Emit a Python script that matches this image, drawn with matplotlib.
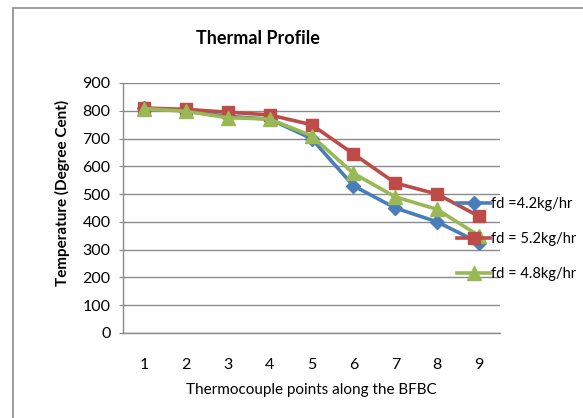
import matplotlib
matplotlib.use("Agg")
import matplotlib.pyplot as plt
from matplotlib.patches import Rectangle

points = [1, 2, 3, 4, 5, 6, 7, 8, 9]
fd_42 = [810, 800, 780, 770, 700, 530, 450, 400, 325]
fd_52 = [810, 805, 795, 785, 750, 645, 540, 500, 420]
fd_48 = [808, 798, 775, 770, 710, 575, 490, 445, 350]
labels = ["fd =4.2kg/hr", "fd = 5.2kg/hr", "fd = 4.8kg/hr"]
yticks = [0, 100, 200, 300, 400, 500, 600, 700, 800, 900]

plt.rcParams['font.family'] = ['Lato', 'DejaVu Sans']

W, H = 583, 418
fig = plt.figure(figsize=(W / 100, H / 100), dpi=100)
fig.patch.set_facecolor('white')

# outer chart frame
fig.add_artist(Rectangle((13 / W, -0.1), 1.2, 1.1 - 8 / H, transform=fig.transFigure,
                         fill=False, edgecolor='#8c8c8c', linewidth=1.2))

ax = fig.add_axes([123 / W, 1 - 333 / H, (500 - 123) / W, (333 - 83) / H])
ax.set_xlim(0.5, 9.5)
ax.set_ylim(0, 900)
ax.set_yticks(yticks)
ax.set_xticks(points)
ax.yaxis.grid(True, color='#8a8a8a', linewidth=1.0)
ax.set_axisbelow(True)
for s in ['top', 'right']:
    ax.spines[s].set_visible(False)
for s in ['left', 'bottom']:
    ax.spines[s].set_color('#8a8a8a')
    ax.spines[s].set_linewidth(1.0)
ax.tick_params(axis='y', length=3, color='#8a8a8a', labelsize=11.5, pad=6)
ax.tick_params(axis='x', length=0, labelsize=11.5, pad=18)

l1, = ax.plot(points, fd_42, color='#4A7EBB', lw=2.6, marker='D', ms=7, label=labels[0])
l2, = ax.plot(points, fd_52, color='#BE4B48', lw=2.6, marker='s', ms=9, label=labels[1])
l3, = ax.plot(points, fd_48, color='#98B954', lw=2.6, marker='^', ms=10, label=labels[2])

ax.set_xlabel("Thermocouple points along the BFBC", fontsize=11, labelpad=8)
ax.set_ylabel("Temperature (Degree Cent)", fontsize=11, fontweight='bold', labelpad=6)
ax.yaxis.set_label_coords(-0.14, 0.56)
fig.text(258 / W, 1 - 38 / H, "Thermal Profile", fontsize=13, fontweight='bold',
         ha='center', va='center')

leg = fig.legend(handles=[l1, l2, l3], loc='upper left',
                 bbox_to_anchor=(451 / W, 1 - 191 / H), frameon=False,
                 fontsize=10.5, handlelength=2.3, handletextpad=0.05,
                 labelspacing=1.45, borderaxespad=0)

fig.savefig("out.png", dpi=100)
